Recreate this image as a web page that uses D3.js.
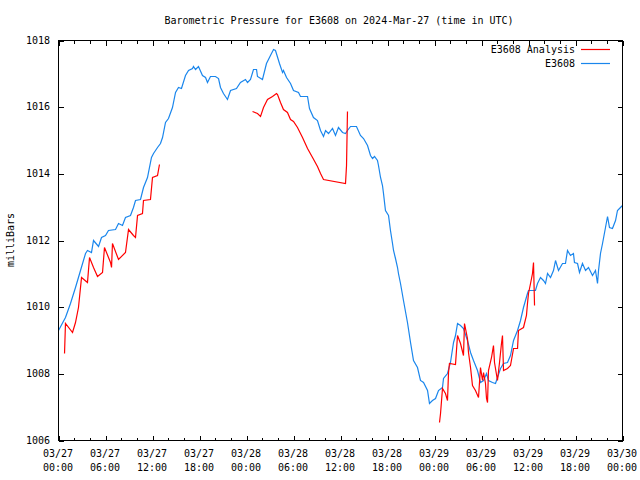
<!DOCTYPE html>
<html><head><meta charset="utf-8">
<script src="https://cdn.jsdelivr.net/npm/d3@7/dist/d3.min.js"></script>
<style>body{margin:0;background:#fff}svg{display:block}</style>
</head><body>
<svg id="chart" width="640" height="480"></svg>
<script>
const titleText = "Barometric Pressure for E3608 on 2024-Mar-27 (time in UTC)";
const yAxisLabel = "milliBars";
const seriesNames = ["E3608 Analysis", "E3608"];
const seriesColors = ["#ff0000", "#1a86ec"];
const xTickHours = [0, 6, 12, 18, 24, 30, 36, 42, 48, 54, 60, 66, 72];
const xTickDates = ["03/27","03/27","03/27","03/27","03/28","03/28","03/28","03/28","03/29","03/29","03/29","03/29","03/30"];
const xTickTimes = ["00:00","06:00","12:00","18:00","00:00","06:00","12:00","18:00","00:00","06:00","12:00","18:00","00:00"];
const yTickValues = [1006, 1008, 1010, 1012, 1014, 1016, 1018];

// E3608 observations: hours since 2024-03-27 00:00 UTC, pressure in mb
const stationHours = [0.00,0.89,1.53,2.17,2.81,3.45,3.70,4.21,4.47,5.11,5.49,6.00,6.38,7.28,7.66,8.17,8.55,9.19,9.57,9.83,10.47,10.85,11.36,11.87,12.13,12.64,13.02,13.28,13.66,14.04,14.55,14.94,15.32,15.70,16.21,16.60,17.11,17.23,17.49,17.87,18.38,18.77,19.02,19.40,20.04,20.43,20.68,21.06,21.57,21.96,22.72,23.23,23.87,24.13,24.51,24.89,25.28,25.40,26.04,26.55,27.06,27.45,27.70,28.21,28.60,28.72,29.11,29.62,30.00,30.64,30.89,31.79,32.04,32.55,33.06,33.45,33.83,34.09,34.47,34.98,35.36,35.74,36.26,36.64,36.89,37.28,38.04,38.55,38.94,39.45,39.83,40.09,40.34,40.72,40.85,41.11,41.36,41.49,41.74,42.13,42.38,42.64,42.77,43.02,43.28,43.40,43.66,44.04,44.55,44.94,45.32,45.83,46.21,46.60,47.11,47.36,47.74,48.13,48.51,49.02,49.15,49.66,50.04,50.43,50.68,50.94,51.32,51.70,52.21,52.60,52.98,53.49,53.87,54.26,54.64,54.89,55.40,55.79,56.04,56.43,56.81,57.32,57.70,58.09,58.60,58.98,59.36,59.87,60.00,60.89,61.15,61.53,61.91,62.17,62.43,62.81,63.19,63.45,63.83,64.34,64.72,64.98,65.36,65.74,65.87,66.26,66.51,66.89,67.28,67.66,68.17,68.55,68.81,68.94,69.19,69.45,69.83,70.09,70.34,70.72,71.11,71.36,71.74,72.00];
const stationPressure = [1009.30,1009.69,1010.11,1010.59,1011.10,1011.61,1011.70,1011.64,1012.00,1011.82,1012.09,1012.15,1012.30,1012.33,1012.51,1012.45,1012.69,1012.75,1012.99,1013.20,1013.23,1013.59,1013.89,1014.49,1014.61,1014.79,1014.91,1015.09,1015.54,1015.66,1015.99,1016.44,1016.59,1016.56,1016.95,1017.10,1017.16,1017.22,1017.13,1017.22,1016.95,1016.89,1016.74,1016.92,1016.92,1016.86,1016.59,1016.41,1016.23,1016.50,1016.56,1016.74,1016.83,1016.74,1016.83,1017.13,1017.13,1016.92,1016.83,1017.31,1017.55,1017.73,1017.70,1017.31,1017.04,1017.10,1016.89,1016.71,1016.50,1016.44,1016.32,1016.32,1015.96,1015.69,1015.60,1015.30,1015.12,1015.30,1015.21,1015.36,1015.15,1015.39,1015.24,1015.21,1015.30,1015.42,1015.42,1015.15,1015.06,1014.85,1014.55,1014.46,1014.52,1014.40,1014.25,1013.89,1013.65,1013.41,1012.90,1012.75,1012.30,1011.91,1011.70,1011.46,1011.19,1011.01,1010.71,1010.20,1009.54,1008.94,1008.40,1008.19,1007.80,1007.74,1007.50,1007.11,1007.20,1007.26,1007.50,1007.59,1007.86,1008.01,1008.34,1008.94,1009.15,1009.51,1009.45,1009.36,1009.00,1008.64,1008.40,1008.10,1007.74,1007.80,1008.01,1007.80,1007.74,1007.71,1007.89,1008.16,1008.31,1008.34,1008.55,1009.00,1009.30,1009.60,1009.99,1010.41,1010.50,1010.50,1010.71,1010.89,1010.80,1010.71,1011.01,1010.89,1011.10,1011.40,1011.10,1011.31,1011.31,1011.70,1011.55,1011.61,1011.34,1011.31,1011.04,1011.31,1011.10,1011.19,1010.95,1011.10,1010.71,1011.10,1011.61,1011.91,1012.39,1012.72,1012.39,1012.36,1012.60,1012.90,1012.99,1013.05];

// E3608 Analysis: null marks a gap between runs
const analysisHours = [0.77,0.89,1.79,2.17,2.55,2.94,3.70,3.96,4.47,4.98,5.62,5.87,6.64,6.77,6.89,7.66,8.55,8.94,9.57,9.83,10.09,10.72,10.85,11.74,12.00,12.64,12.89,null,
24.77,25.40,25.79,26.17,26.68,27.32,27.83,27.96,28.34,28.72,29.23,29.62,30.00,30.51,31.15,31.79,32.43,33.06,33.45,33.83,36.64,36.77,36.89,null,
48.64,48.77,49.02,49.40,49.66,49.79,49.91,50.68,50.94,51.32,51.70,51.83,52.21,52.34,52.60,52.85,53.23,53.62,53.87,54.13,54.26,54.51,54.64,54.77,54.89,55.28,55.53,55.66,56.04,56.30,56.55,56.68,56.81,57.32,57.70,58.09,58.60,58.72,59.36,59.74,59.87,60.00,60.26,60.51,60.64,60.77];
const analysisPressure = [1008.61,1009.51,1009.24,1009.54,1009.99,1010.89,1010.74,1011.49,1011.19,1010.92,1011.04,1011.79,1011.34,1011.19,1011.91,1011.43,1011.64,1012.33,1012.15,1012.09,1012.75,1012.81,1013.20,1013.23,1013.89,1013.95,1014.28,null,
1015.87,1015.81,1015.72,1015.99,1016.23,1016.32,1016.41,1016.38,1016.14,1015.93,1015.84,1015.63,1015.57,1015.39,1015.09,1014.76,1014.49,1014.22,1014.01,1013.83,1013.71,1014.25,1015.87,null,
1006.54,1006.81,1007.56,1007.41,1007.20,1008.04,1008.31,1008.28,1009.15,1008.91,1008.55,1009.51,1009.06,1008.64,1008.19,1007.65,1007.50,1007.29,1008.19,1007.80,1008.04,1007.71,1007.26,1007.14,1008.10,1008.49,1008.85,1008.34,1007.80,1008.34,1008.91,1009.15,1008.10,1008.16,1008.25,1008.76,1008.76,1009.30,1009.39,1009.75,1010.11,1010.41,1010.71,1011.01,1011.34,1010.05];

const FONT = "'DejaVu Sans Mono', 'Liberation Mono', monospace";
const svg = d3.select("#chart");
const L = 58, R = 622, T = 40, B = 440;
const x = d3.scaleLinear().domain([0, 72]).range([L, R]);
const y = d3.scaleLinear().domain([1006, 1018]).range([B, T]);
const minorHours = d3.range(0, 73, 2).filter(h => h % 6 !== 0);

const g = svg.append("g").attr("transform", "translate(0.5,0.5)");

// axes (ticks point inward, mirrored on all sides)
function styleAxis(sel) {
  sel.select(".domain").remove();
  sel.selectAll("line").attr("stroke", "#000").attr("shape-rendering", "crispEdges");
  sel.selectAll("text").remove();
}
g.append("g").attr("transform", `translate(0,${B})`)
  .call(d3.axisBottom(x).tickValues(xTickHours).tickSize(-5).tickFormat("")).call(styleAxis);
g.append("g").attr("transform", `translate(0,${B})`)
  .call(d3.axisBottom(x).tickValues(minorHours).tickSize(-3).tickFormat("")).call(styleAxis);
g.append("g").attr("transform", `translate(0,${T})`)
  .call(d3.axisTop(x).tickValues(xTickHours).tickSize(-5).tickFormat("")).call(styleAxis);
g.append("g").attr("transform", `translate(0,${T})`)
  .call(d3.axisTop(x).tickValues(minorHours).tickSize(-3).tickFormat("")).call(styleAxis);
g.append("g").attr("transform", `translate(${L},0)`)
  .call(d3.axisLeft(y).tickValues(yTickValues).tickSize(-5).tickFormat("")).call(styleAxis);
g.append("g").attr("transform", `translate(${R},0)`)
  .call(d3.axisRight(y).tickValues(yTickValues).tickSize(-5).tickFormat("")).call(styleAxis);

// data lines
const stationData = stationHours.map((h, i) => [h, stationPressure[i]]);
const analysisData = analysisHours.map((h, i) => [h, analysisPressure[i]]);
const line = d3.line().defined(d => d[0] !== null && d[1] !== null)
  .x(d => x(d[0])).y(d => y(d[1]));
g.append("path").datum(stationData).attr("d", line)
  .attr("fill", "none").attr("stroke", seriesColors[1]).attr("stroke-width", 1.2);
g.append("path").datum(analysisData).attr("d", line)
  .attr("fill", "none").attr("stroke", seriesColors[0]).attr("stroke-width", 1.2);

// frame
g.append("rect").attr("x", L).attr("y", T).attr("width", R - L).attr("height", B - T)
  .attr("fill", "none").attr("stroke", "#000").attr("shape-rendering", "crispEdges");

// tick labels
const txt = svg.append("g").attr("font-family", FONT).attr("font-size", "10px").attr("fill", "#000");
txt.selectAll(".yl").data(yTickValues).join("text")
  .attr("x", L - 8).attr("y", d => y(d)).attr("dy", "0.35em")
  .attr("text-anchor", "end").text(d => d);
const xl = txt.selectAll(".xl").data(xTickHours).join("text")
  .attr("text-anchor", "middle");
xl.append("tspan").attr("x", d => x(d)).attr("y", 457).text((d, i) => xTickDates[i]);
xl.append("tspan").attr("x", d => x(d)).attr("y", 471).text((d, i) => xTickTimes[i]);

// title and y label
txt.append("text").attr("x", 339).attr("y", 24).attr("text-anchor", "middle").text(titleText);
txt.append("text").attr("transform", "translate(14,240) rotate(-90)")
  .attr("text-anchor", "middle").text(yAxisLabel);

// legend
const legendY = [49, 63];
seriesNames.forEach((name, i) => {
  txt.append("text").attr("x", 575).attr("y", legendY[i]).attr("dy", "0.35em")
    .attr("text-anchor", "end").text(name);
  svg.append("line").attr("x1", 581).attr("x2", 610)
    .attr("y1", legendY[i] + 0.5).attr("y2", legendY[i] + 0.5)
    .attr("stroke", seriesColors[i]).attr("stroke-width", 1.2);
});
</script>
</body></html>
